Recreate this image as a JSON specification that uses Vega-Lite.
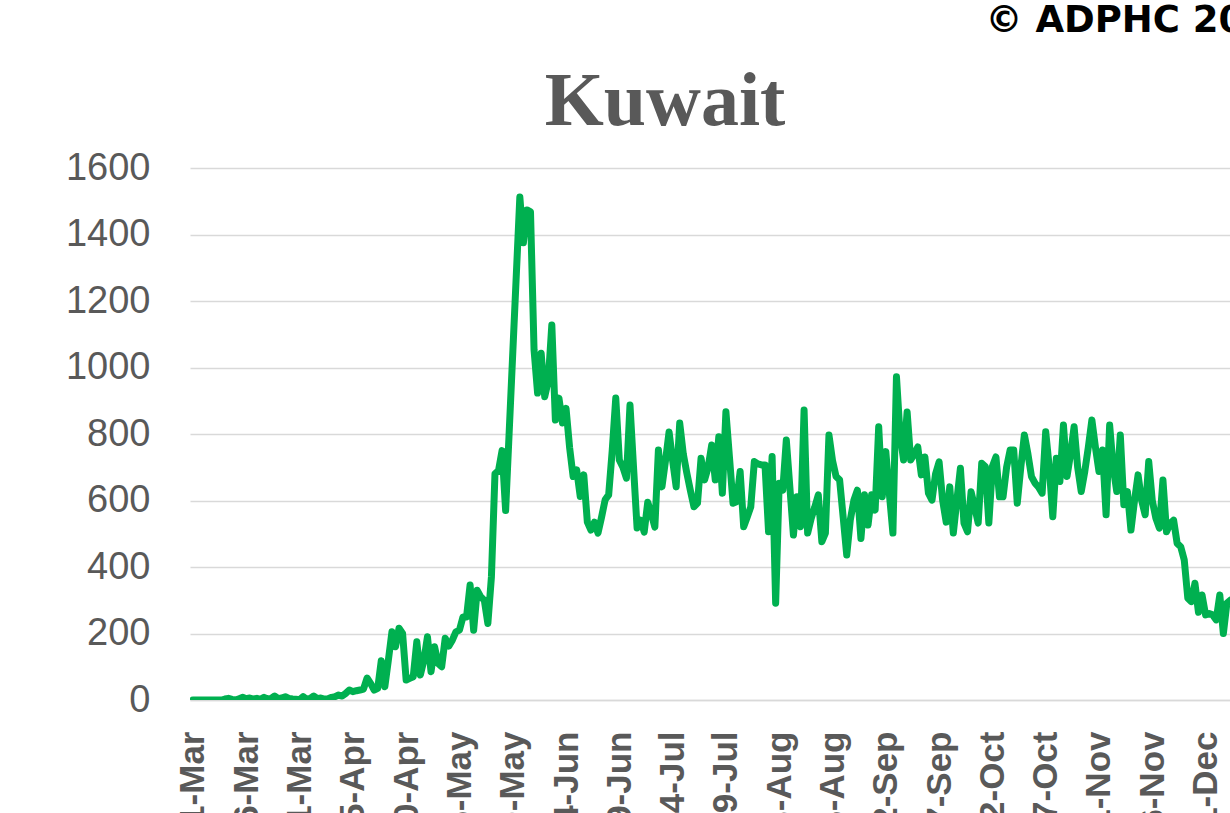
{
  "$schema": "https://vega.github.io/schema/vega-lite/v6.json",
  "autosize": {"type": "none"},
  "padding": {"left": 190, "top": 168, "right": 0, "bottom": 113},
  "width": 1040,
  "height": 532,
  "background": "white",
  "title": {
    "text": "Kuwait",
    "font": "Liberation Serif",
    "fontSize": 76,
    "fontWeight": "bold",
    "color": "#595959",
    "anchor": "middle",
    "baseline": "alphabetic",
    "dx": -45,
    "offset": -200
  },
  "config": {"view": {"stroke": null}},
  "data": {"values": [
    {"date": "2020-03-01", "cases": 0}, {"date": "2020-03-02", "cases": 0}, {"date": "2020-03-03", "cases": 0}, {"date": "2020-03-04", "cases": 0},
    {"date": "2020-03-05", "cases": 0}, {"date": "2020-03-06", "cases": 0}, {"date": "2020-03-07", "cases": 0}, {"date": "2020-03-08", "cases": 0},
    {"date": "2020-03-09", "cases": 0}, {"date": "2020-03-10", "cases": 3}, {"date": "2020-03-11", "cases": 5}, {"date": "2020-03-12", "cases": 2},
    {"date": "2020-03-13", "cases": 0}, {"date": "2020-03-14", "cases": 4}, {"date": "2020-03-15", "cases": 8}, {"date": "2020-03-16", "cases": 4},
    {"date": "2020-03-17", "cases": 6}, {"date": "2020-03-18", "cases": 3}, {"date": "2020-03-19", "cases": 5}, {"date": "2020-03-20", "cases": 2},
    {"date": "2020-03-21", "cases": 8}, {"date": "2020-03-22", "cases": 3}, {"date": "2020-03-23", "cases": 5}, {"date": "2020-03-24", "cases": 12},
    {"date": "2020-03-25", "cases": 4}, {"date": "2020-03-26", "cases": 6}, {"date": "2020-03-27", "cases": 10}, {"date": "2020-03-28", "cases": 5},
    {"date": "2020-03-29", "cases": 3}, {"date": "2020-03-30", "cases": 2}, {"date": "2020-03-31", "cases": 1},
    {"date": "2020-04-01", "cases": 10}, {"date": "2020-04-02", "cases": 2}, {"date": "2020-04-03", "cases": 5}, {"date": "2020-04-04", "cases": 12},
    {"date": "2020-04-05", "cases": 4}, {"date": "2020-04-06", "cases": 6}, {"date": "2020-04-07", "cases": 3}, {"date": "2020-04-08", "cases": 4},
    {"date": "2020-04-09", "cases": 8}, {"date": "2020-04-10", "cases": 10}, {"date": "2020-04-11", "cases": 15}, {"date": "2020-04-12", "cases": 12},
    {"date": "2020-04-13", "cases": 20}, {"date": "2020-04-14", "cases": 30}, {"date": "2020-04-15", "cases": 25}, {"date": "2020-04-16", "cases": 28},
    {"date": "2020-04-17", "cases": 30}, {"date": "2020-04-18", "cases": 33}, {"date": "2020-04-19", "cases": 66}, {"date": "2020-04-20", "cases": 50},
    {"date": "2020-04-21", "cases": 30}, {"date": "2020-04-22", "cases": 35}, {"date": "2020-04-23", "cases": 118}, {"date": "2020-04-24", "cases": 40},
    {"date": "2020-04-25", "cases": 120}, {"date": "2020-04-26", "cases": 205}, {"date": "2020-04-27", "cases": 160}, {"date": "2020-04-28", "cases": 216},
    {"date": "2020-04-29", "cases": 200}, {"date": "2020-04-30", "cases": 60},
    {"date": "2020-05-01", "cases": 65}, {"date": "2020-05-02", "cases": 70}, {"date": "2020-05-03", "cases": 175}, {"date": "2020-05-04", "cases": 75},
    {"date": "2020-05-05", "cases": 120}, {"date": "2020-05-06", "cases": 190}, {"date": "2020-05-07", "cases": 85}, {"date": "2020-05-08", "cases": 160},
    {"date": "2020-05-09", "cases": 110}, {"date": "2020-05-10", "cases": 100}, {"date": "2020-05-11", "cases": 186}, {"date": "2020-05-12", "cases": 162},
    {"date": "2020-05-13", "cases": 180}, {"date": "2020-05-14", "cases": 205}, {"date": "2020-05-15", "cases": 210}, {"date": "2020-05-16", "cases": 250},
    {"date": "2020-05-17", "cases": 250}, {"date": "2020-05-18", "cases": 346}, {"date": "2020-05-19", "cases": 210}, {"date": "2020-05-20", "cases": 330},
    {"date": "2020-05-21", "cases": 310}, {"date": "2020-05-22", "cases": 300}, {"date": "2020-05-23", "cases": 230}, {"date": "2020-05-24", "cases": 370},
    {"date": "2020-05-25", "cases": 680}, {"date": "2020-05-26", "cases": 690}, {"date": "2020-05-27", "cases": 750}, {"date": "2020-05-28", "cases": 570},
    {"date": "2020-06-01", "cases": 1513}, {"date": "2020-06-02", "cases": 1375}, {"date": "2020-06-03", "cases": 1474}, {"date": "2020-06-04", "cases": 1468},
    {"date": "2020-06-05", "cases": 1053}, {"date": "2020-06-06", "cases": 923}, {"date": "2020-06-07", "cases": 1043}, {"date": "2020-06-08", "cases": 912},
    {"date": "2020-06-09", "cases": 960}, {"date": "2020-06-10", "cases": 1128}, {"date": "2020-06-11", "cases": 842}, {"date": "2020-06-12", "cases": 908},
    {"date": "2020-06-13", "cases": 833}, {"date": "2020-06-14", "cases": 877}, {"date": "2020-06-15", "cases": 760}, {"date": "2020-06-16", "cases": 672},
    {"date": "2020-06-17", "cases": 692}, {"date": "2020-06-18", "cases": 612}, {"date": "2020-06-19", "cases": 677}, {"date": "2020-06-20", "cases": 535},
    {"date": "2020-06-21", "cases": 511}, {"date": "2020-06-22", "cases": 535}, {"date": "2020-06-23", "cases": 502}, {"date": "2020-06-24", "cases": 550},
    {"date": "2020-06-25", "cases": 602}, {"date": "2020-06-26", "cases": 617}, {"date": "2020-06-27", "cases": 750}, {"date": "2020-06-28", "cases": 908},
    {"date": "2020-06-29", "cases": 722}, {"date": "2020-06-30", "cases": 700},
    {"date": "2020-07-01", "cases": 667}, {"date": "2020-07-02", "cases": 887}, {"date": "2020-07-03", "cases": 700}, {"date": "2020-07-04", "cases": 517},
    {"date": "2020-07-05", "cases": 541}, {"date": "2020-07-06", "cases": 505}, {"date": "2020-07-07", "cases": 595}, {"date": "2020-07-08", "cases": 560},
    {"date": "2020-07-09", "cases": 520}, {"date": "2020-07-10", "cases": 752}, {"date": "2020-07-11", "cases": 641}, {"date": "2020-07-12", "cases": 720},
    {"date": "2020-07-13", "cases": 806}, {"date": "2020-07-14", "cases": 720}, {"date": "2020-07-15", "cases": 641}, {"date": "2020-07-16", "cases": 833},
    {"date": "2020-07-17", "cases": 740}, {"date": "2020-07-18", "cases": 682}, {"date": "2020-07-19", "cases": 630}, {"date": "2020-07-20", "cases": 581},
    {"date": "2020-07-21", "cases": 592}, {"date": "2020-07-22", "cases": 727}, {"date": "2020-07-23", "cases": 662}, {"date": "2020-07-24", "cases": 700},
    {"date": "2020-07-25", "cases": 767}, {"date": "2020-07-26", "cases": 662}, {"date": "2020-07-27", "cases": 792}, {"date": "2020-07-28", "cases": 622},
    {"date": "2020-07-29", "cases": 867}, {"date": "2020-07-30", "cases": 730}, {"date": "2020-07-31", "cases": 592},
    {"date": "2020-08-01", "cases": 596}, {"date": "2020-08-02", "cases": 687}, {"date": "2020-08-03", "cases": 521}, {"date": "2020-08-04", "cases": 550},
    {"date": "2020-08-05", "cases": 581}, {"date": "2020-08-06", "cases": 717}, {"date": "2020-08-07", "cases": 710}, {"date": "2020-08-08", "cases": 707},
    {"date": "2020-08-09", "cases": 707}, {"date": "2020-08-10", "cases": 506}, {"date": "2020-08-11", "cases": 732}, {"date": "2020-08-12", "cases": 291},
    {"date": "2020-08-13", "cases": 652}, {"date": "2020-08-14", "cases": 631}, {"date": "2020-08-15", "cases": 782}, {"date": "2020-08-16", "cases": 640},
    {"date": "2020-08-17", "cases": 496}, {"date": "2020-08-18", "cases": 611}, {"date": "2020-08-19", "cases": 521}, {"date": "2020-08-20", "cases": 872},
    {"date": "2020-08-21", "cases": 502}, {"date": "2020-08-22", "cases": 546}, {"date": "2020-08-23", "cases": 580}, {"date": "2020-08-24", "cases": 617},
    {"date": "2020-08-25", "cases": 476}, {"date": "2020-08-26", "cases": 502}, {"date": "2020-08-27", "cases": 797}, {"date": "2020-08-28", "cases": 720},
    {"date": "2020-08-29", "cases": 672}, {"date": "2020-08-30", "cases": 662}, {"date": "2020-08-31", "cases": 550},
    {"date": "2020-09-01", "cases": 436}, {"date": "2020-09-02", "cases": 541}, {"date": "2020-09-03", "cases": 600}, {"date": "2020-09-04", "cases": 631},
    {"date": "2020-09-05", "cases": 486}, {"date": "2020-09-06", "cases": 617}, {"date": "2020-09-07", "cases": 526}, {"date": "2020-09-08", "cases": 617},
    {"date": "2020-09-09", "cases": 571}, {"date": "2020-09-10", "cases": 822}, {"date": "2020-09-11", "cases": 611}, {"date": "2020-09-12", "cases": 747},
    {"date": "2020-09-13", "cases": 620}, {"date": "2020-09-14", "cases": 502}, {"date": "2020-09-15", "cases": 972}, {"date": "2020-09-16", "cases": 800},
    {"date": "2020-09-17", "cases": 722}, {"date": "2020-09-18", "cases": 866}, {"date": "2020-09-19", "cases": 722}, {"date": "2020-09-20", "cases": 740},
    {"date": "2020-09-21", "cases": 761}, {"date": "2020-09-22", "cases": 677}, {"date": "2020-09-23", "cases": 731}, {"date": "2020-09-24", "cases": 622},
    {"date": "2020-09-25", "cases": 601}, {"date": "2020-09-26", "cases": 680}, {"date": "2020-09-27", "cases": 716}, {"date": "2020-09-28", "cases": 600},
    {"date": "2020-09-29", "cases": 535}, {"date": "2020-09-30", "cases": 641},
    {"date": "2020-10-01", "cases": 502}, {"date": "2020-10-02", "cases": 600}, {"date": "2020-10-03", "cases": 697}, {"date": "2020-10-04", "cases": 532},
    {"date": "2020-10-05", "cases": 506}, {"date": "2020-10-06", "cases": 626}, {"date": "2020-10-07", "cases": 581}, {"date": "2020-10-08", "cases": 532},
    {"date": "2020-10-09", "cases": 712}, {"date": "2020-10-10", "cases": 702}, {"date": "2020-10-11", "cases": 532}, {"date": "2020-10-12", "cases": 702},
    {"date": "2020-10-13", "cases": 731}, {"date": "2020-10-14", "cases": 611}, {"date": "2020-10-15", "cases": 611}, {"date": "2020-10-16", "cases": 700},
    {"date": "2020-10-17", "cases": 752}, {"date": "2020-10-18", "cases": 752}, {"date": "2020-10-19", "cases": 592}, {"date": "2020-10-20", "cases": 700},
    {"date": "2020-10-21", "cases": 797}, {"date": "2020-10-22", "cases": 740}, {"date": "2020-10-23", "cases": 672}, {"date": "2020-10-24", "cases": 652},
    {"date": "2020-10-25", "cases": 640}, {"date": "2020-10-26", "cases": 622}, {"date": "2020-10-27", "cases": 807}, {"date": "2020-10-28", "cases": 700},
    {"date": "2020-10-29", "cases": 551}, {"date": "2020-10-30", "cases": 727}, {"date": "2020-10-31", "cases": 657},
    {"date": "2020-11-01", "cases": 827}, {"date": "2020-11-02", "cases": 672}, {"date": "2020-11-03", "cases": 740}, {"date": "2020-11-04", "cases": 822},
    {"date": "2020-11-05", "cases": 700}, {"date": "2020-11-06", "cases": 627}, {"date": "2020-11-07", "cases": 687}, {"date": "2020-11-08", "cases": 760},
    {"date": "2020-11-09", "cases": 842}, {"date": "2020-11-10", "cases": 760}, {"date": "2020-11-11", "cases": 687}, {"date": "2020-11-12", "cases": 752},
    {"date": "2020-11-13", "cases": 557}, {"date": "2020-11-14", "cases": 827}, {"date": "2020-11-15", "cases": 700}, {"date": "2020-11-16", "cases": 627},
    {"date": "2020-11-17", "cases": 797}, {"date": "2020-11-18", "cases": 587}, {"date": "2020-11-19", "cases": 627}, {"date": "2020-11-20", "cases": 511},
    {"date": "2020-11-21", "cases": 600}, {"date": "2020-11-22", "cases": 677}, {"date": "2020-11-23", "cases": 600}, {"date": "2020-11-24", "cases": 557},
    {"date": "2020-11-25", "cases": 717}, {"date": "2020-11-26", "cases": 600}, {"date": "2020-11-27", "cases": 547}, {"date": "2020-11-28", "cases": 517},
    {"date": "2020-11-29", "cases": 662}, {"date": "2020-11-30", "cases": 506},
    {"date": "2020-12-01", "cases": 530}, {"date": "2020-12-02", "cases": 541}, {"date": "2020-12-03", "cases": 471}, {"date": "2020-12-04", "cases": 461},
    {"date": "2020-12-05", "cases": 421}, {"date": "2020-12-06", "cases": 306}, {"date": "2020-12-07", "cases": 296}, {"date": "2020-12-08", "cases": 351},
    {"date": "2020-12-09", "cases": 264}, {"date": "2020-12-10", "cases": 316}, {"date": "2020-12-11", "cases": 256}, {"date": "2020-12-12", "cases": 260},
    {"date": "2020-12-13", "cases": 256}, {"date": "2020-12-14", "cases": 241}, {"date": "2020-12-15", "cases": 316}, {"date": "2020-12-16", "cases": 200},
    {"date": "2020-12-17", "cases": 291}, {"date": "2020-12-18", "cases": 300}
  ]},
  "mark": {"type": "line", "color": "#00B050", "strokeWidth": 7, "strokeJoin": "round", "strokeCap": "round", "clip": true},
  "encoding": {
    "x": {
      "field": "date",
      "type": "temporal",
      "scale": {
        "type": "utc",
        "domain": [
          {"year": 2020, "month": 2, "date": 29, "hours": 4, "utc": true},
          {"year": 2020, "month": 12, "date": 17, "hours": 21, "utc": true}
        ]
      },
      "axis": {
        "title": null,
        "values": [
          {"year": 2020, "month": 3, "date": 1, "utc": true},
          {"year": 2020, "month": 3, "date": 16, "utc": true},
          {"year": 2020, "month": 3, "date": 31, "utc": true},
          {"year": 2020, "month": 4, "date": 15, "utc": true},
          {"year": 2020, "month": 4, "date": 30, "utc": true},
          {"year": 2020, "month": 5, "date": 15, "utc": true},
          {"year": 2020, "month": 5, "date": 30, "utc": true},
          {"year": 2020, "month": 6, "date": 14, "utc": true},
          {"year": 2020, "month": 6, "date": 29, "utc": true},
          {"year": 2020, "month": 7, "date": 14, "utc": true},
          {"year": 2020, "month": 7, "date": 29, "utc": true},
          {"year": 2020, "month": 8, "date": 13, "utc": true},
          {"year": 2020, "month": 8, "date": 28, "utc": true},
          {"year": 2020, "month": 9, "date": 12, "utc": true},
          {"year": 2020, "month": 9, "date": 27, "utc": true},
          {"year": 2020, "month": 10, "date": 12, "utc": true},
          {"year": 2020, "month": 10, "date": 27, "utc": true},
          {"year": 2020, "month": 11, "date": 11, "utc": true},
          {"year": 2020, "month": 11, "date": 26, "utc": true},
          {"year": 2020, "month": 12, "date": 11, "utc": true}
        ],
        "labelExpr": "utcFormat(datum.value, '%-d-%b')",
        "labelAngle": -90,
        "labelFont": "Liberation Sans",
        "labelFontSize": 35,
        "labelFontWeight": "bold",
        "labelColor": "#595959",
        "labelPadding": 31,
        "labelOverlap": false,
        "labelFlush": false,
        "ticks": false,
        "grid": false,
        "domain": true,
        "domainColor": "#d9d9d9",
        "domainWidth": 1.5
      }
    },
    "y": {
      "field": "cases",
      "type": "quantitative",
      "scale": {"domain": [0, 1600], "nice": false},
      "axis": {
        "values": [0, 200, 400, 600, 800, 1000, 1200, 1400, 1600],
        "format": "d",
        "labelFont": "Liberation Sans",
        "labelFontSize": 38,
        "labelColor": "#595959",
        "labelPadding": 40,
        "ticks": false,
        "domain": false,
        "grid": true,
        "gridColor": "#d9d9d9",
        "gridWidth": 1.5,
        "title": "© ADPHC 2020",
        "titleAngle": 0,
        "titleX": 795,
        "titleY": -137,
        "titleAlign": "left",
        "titleBaseline": "alphabetic",
        "titleFont": "DejaVu Sans",
        "titleFontSize": 37,
        "titleFontWeight": "bold",
        "titleColor": "#000000"
      }
    }
  }
}
